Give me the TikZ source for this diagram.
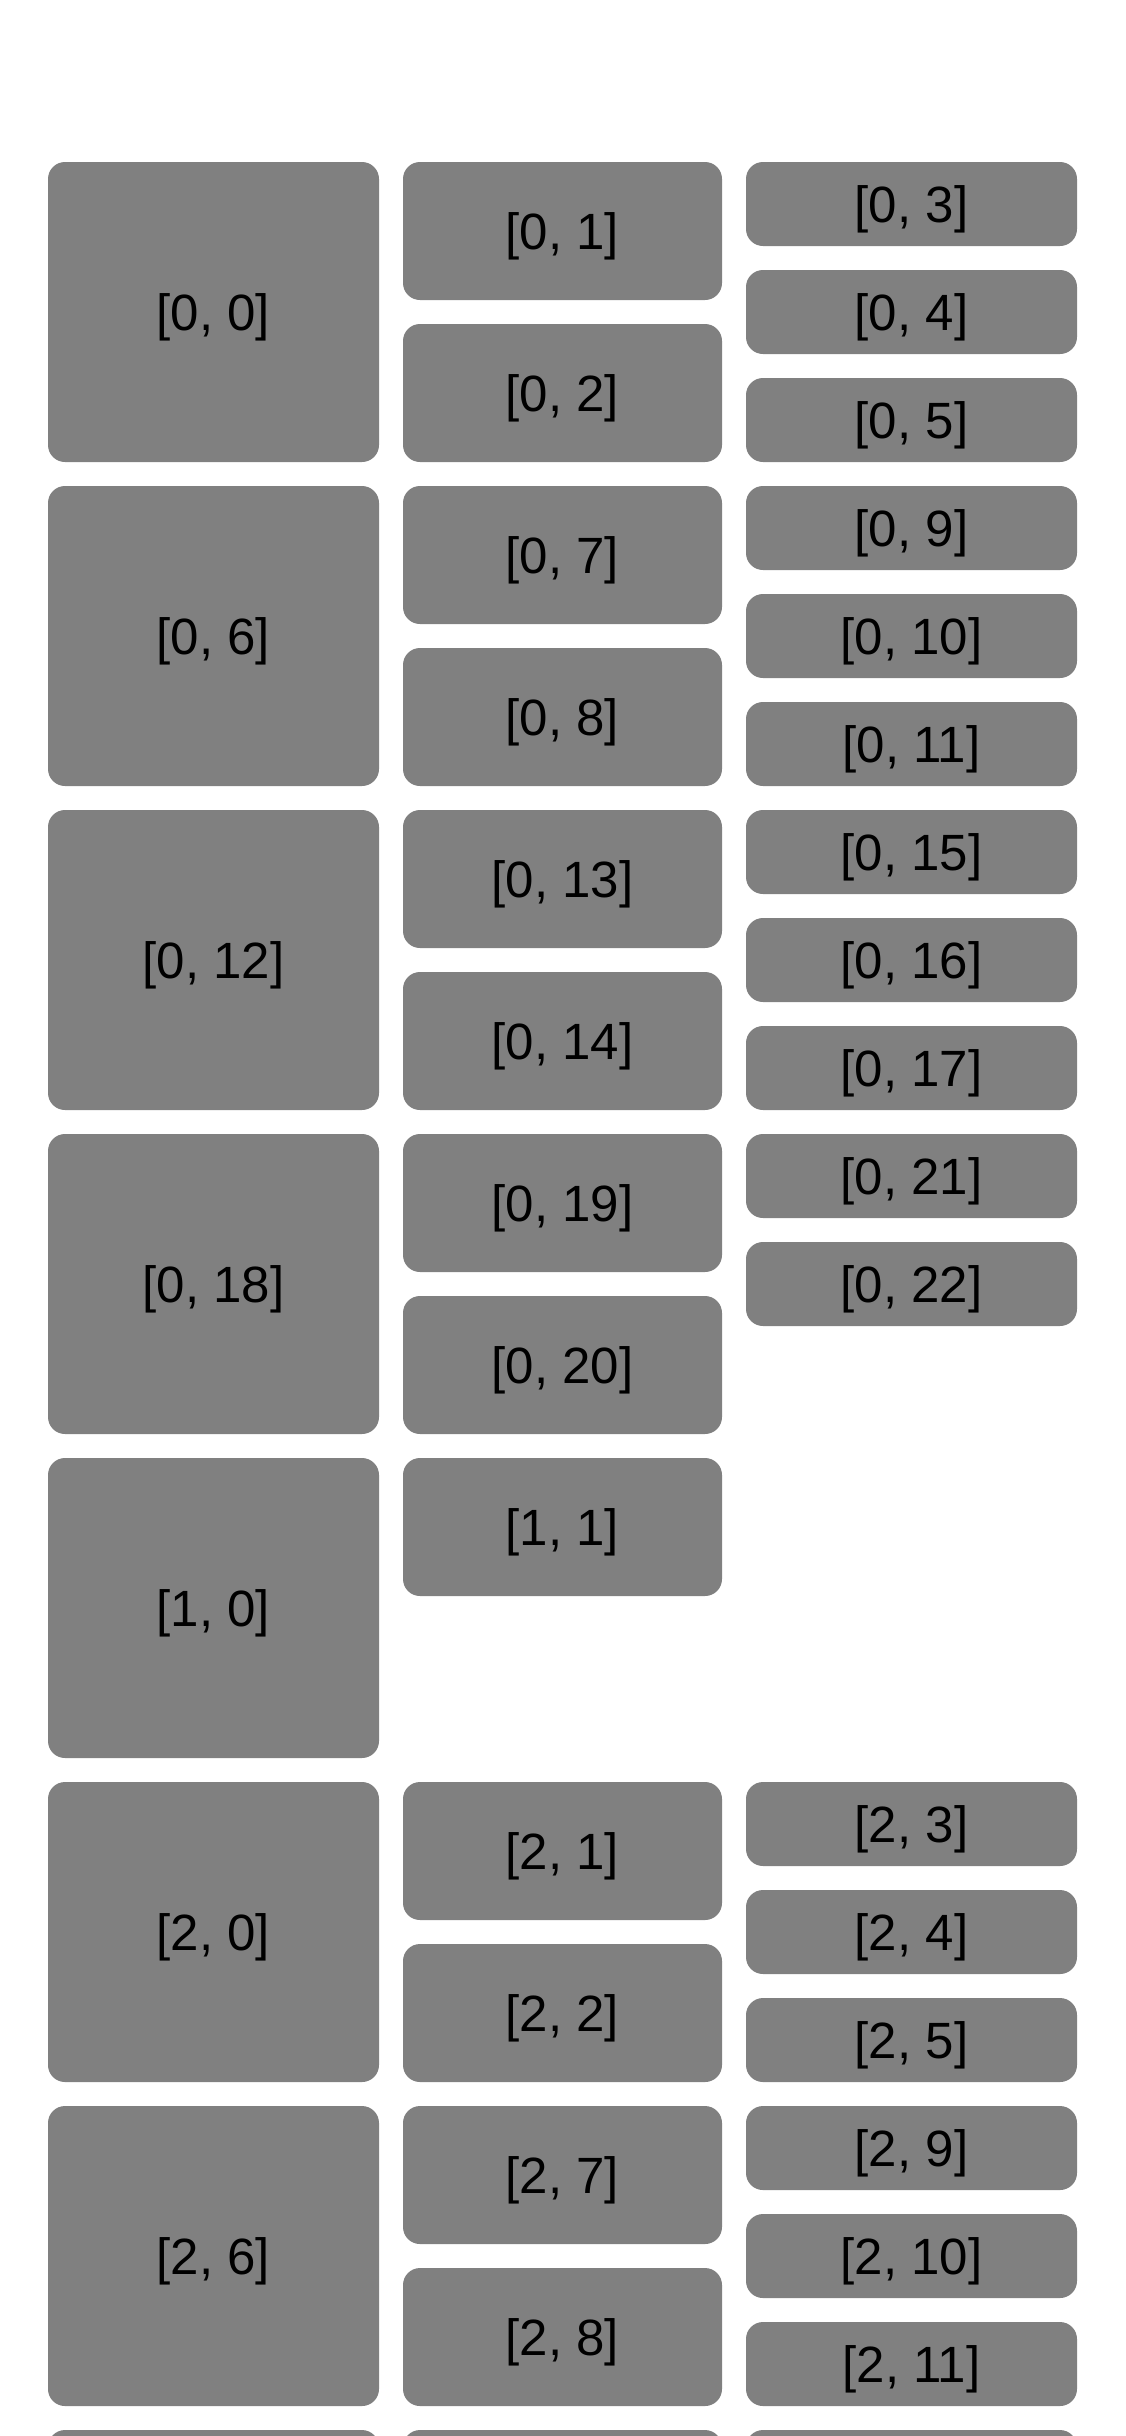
\documentclass[tikz,border=0pt]{standalone}
\usepackage{fontspec}
\setmainfont{Liberation Sans}
\definecolor{boxgray}{HTML}{808080}
\tikzset{
  cell/.style={fill=boxgray, rounded corners=17pt, inner sep=0pt, text=black,
    font=\fontsize{51}{60}\selectfont, text height=36.5pt, text depth=0pt},
  bigcell/.style={cell, minimum width=331pt, minimum height=300pt},
  midcell/.style={cell, minimum width=319pt, minimum height=138pt},
  smallcell/.style={cell, minimum width=331pt, minimum height=84pt},
}
\begin{document}
\begin{tikzpicture}[x=1pt,y=-1pt]
\useasboundingbox (0,0) rectangle (1125,2436);
\clip (0,0) rectangle (1125,2436);
\fill[white] (0,0) rectangle (1125,2436);
% columns: 213.5, 562.5, 911.5 ; block top T = 162 + 324k
% block 0 (T=162)
\node[bigcell] (a00) at (213.5,312) {[0, 0]};
\node[midcell] (a01) at (562.5,231) {[0, 1]};
\node[midcell] (a02) at (562.5,393) {[0, 2]};
\node[smallcell] (a03) at (911.5,204) {[0, 3]};
\node[smallcell] (a04) at (911.5,312) {[0, 4]};
\node[smallcell] (a05) at (911.5,420) {[0, 5]};
% block 1 (T=486)
\node[bigcell] (a06) at (213.5,636) {[0, 6]};
\node[midcell] (a07) at (562.5,555) {[0, 7]};
\node[midcell] (a08) at (562.5,717) {[0, 8]};
\node[smallcell] (a09) at (911.5,528) {[0, 9]};
\node[smallcell] (a010) at (911.5,636) {[0, 10]};
\node[smallcell] (a011) at (911.5,744) {[0, 11]};
% block 2 (T=810)
\node[bigcell] (a012) at (213.5,960) {[0, 12]};
\node[midcell] (a013) at (562.5,879) {[0, 13]};
\node[midcell] (a014) at (562.5,1041) {[0, 14]};
\node[smallcell] (a015) at (911.5,852) {[0, 15]};
\node[smallcell] (a016) at (911.5,960) {[0, 16]};
\node[smallcell] (a017) at (911.5,1068) {[0, 17]};
% block 3 (T=1134)
\node[bigcell] (a018) at (213.5,1284) {[0, 18]};
\node[midcell] (a019) at (562.5,1203) {[0, 19]};
\node[midcell] (a020) at (562.5,1365) {[0, 20]};
\node[smallcell] (a021) at (911.5,1176) {[0, 21]};
\node[smallcell] (a022) at (911.5,1284) {[0, 22]};
% block 4 (T=1458)
\node[bigcell] (b10) at (213.5,1608) {[1, 0]};
\node[midcell] (b11) at (562.5,1527) {[1, 1]};
% block 5 (T=1782)
\node[bigcell] (c20) at (213.5,1932) {[2, 0]};
\node[midcell] (c21) at (562.5,1851) {[2, 1]};
\node[midcell] (c22) at (562.5,2013) {[2, 2]};
\node[smallcell] (c23) at (911.5,1824) {[2, 3]};
\node[smallcell] (c24) at (911.5,1932) {[2, 4]};
\node[smallcell] (c25) at (911.5,2040) {[2, 5]};
% block 6 (T=2106)
\node[bigcell] (c26) at (213.5,2256) {[2, 6]};
\node[midcell] (c27) at (562.5,2175) {[2, 7]};
\node[midcell] (c28) at (562.5,2337) {[2, 8]};
\node[smallcell] (c29) at (911.5,2148) {[2, 9]};
\node[smallcell] (c210) at (911.5,2256) {[2, 10]};
\node[smallcell] (c211) at (911.5,2364) {[2, 11]};
% block 7 (T=2430), only the top edge shows
\node[bigcell] (d1) at (213.5,2580) {};
\node[midcell] (d2) at (562.5,2499) {};
\node[smallcell] (d3) at (911.5,2472) {};
\end{tikzpicture}
\end{document}
